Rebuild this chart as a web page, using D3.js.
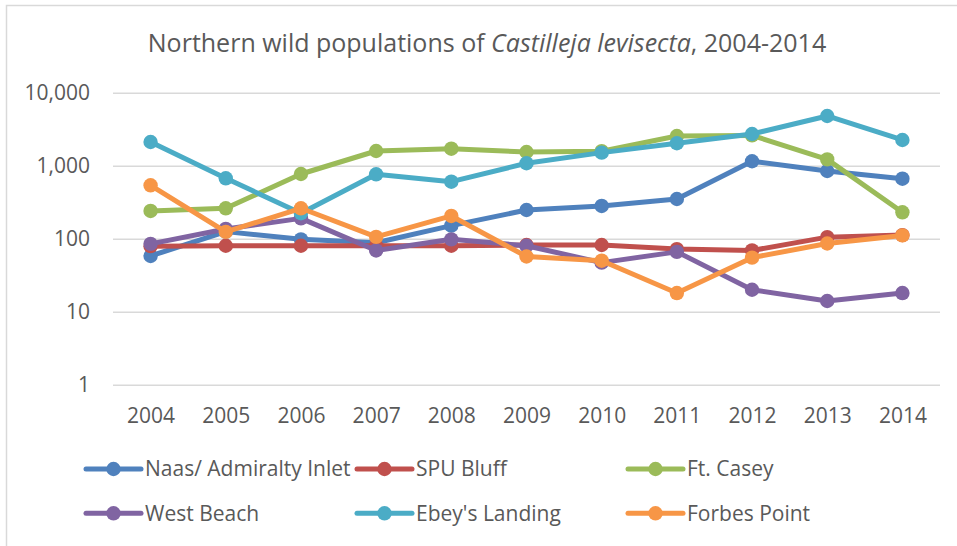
<!DOCTYPE html>
<html>
<head>
<meta charset="utf-8">
<script src="https://cdn.jsdelivr.net/npm/d3@7"></script>
<style>
  body { margin: 0; background: #fff; }
  text { font-family: "Open Sans", "Noto Sans", sans-serif; fill: #595959; }
</style>
</head>
<body>
<svg id="chart"></svg>
<script>
// Data
const years = ["2004", "2005", "2006", "2007", "2008", "2009", "2010", "2011", "2012", "2013", "2014"];
const naas = [58, 125, 98, 88, 151, 247, 281, 350, 1150, 846, 664];
const spuBluff = [79, 80, 80, 80, 80, 82, 82, 72, 69, 105, 112];
const ftCasey = [240, 261, 770, 1590, 1710, 1540, 1580, 2550, 2600, 1220, 230];
const westBeach = [85, 136, 190, 69, 98, 80, 47, 66, 20, 14, 18];
const ebeys = [2110, 672, 223, 762, 604, 1080, 1510, 2030, 2720, 4800, 2250];
const forbes = [539, 124, 261, 106, 205, 57, 50, 18, 55, 86, 111];

const seriesNames = ["Naas/ Admiralty Inlet", "SPU Bluff", "Ft. Casey", "West Beach", "Ebey's Landing", "Forbes Point"];
const seriesValues = [naas, spuBluff, ftCasey, westBeach, ebeys, forbes];
const colors = ["#4F81BD", "#C0504D", "#9BBB59", "#8064A2", "#4BACC6", "#F79646"];
const yTicks = [1, 10, 100, 1000, 10000];

let width = 957;
let height = 546;

let margin = { top: 92.7, right: 17, bottom: 161.3, left: 113 };

let svg = d3.select("#chart")
    .attr("width", width)
    .attr("height", height);

// chart frame
svg.append("rect")
    .attr("x", 6.5)
    .attr("y", 5.5)
    .attr("width", 1000)
    .attr("height", 1000)
    .attr("fill", "none")
    .attr("stroke", "#d9d9d9")
    .attr("stroke-width", 1.5);

// Title
let title = svg.append("text")
    .attr("x", 487)
    .attr("y", 43.5)
    .attr("dy", "0.35em")
    .attr("text-anchor", "middle")
    .style("font-size", "25px");
title.append("tspan").text("Northern wild populations of ");
title.append("tspan").style("font-style", "italic").text("Castilleja levisecta");
title.append("tspan").text(", 2004-2014");

// Scales
let xScale = d3.scalePoint()
    .domain(years)
    .range([margin.left, width - margin.right])
    .padding(0.5);

let yScale = d3.scaleLog()
    .domain([1, 10000])
    .range([height - margin.bottom, margin.top]);

// y axis with gridlines
let yAxis = svg.append("g")
    .attr("transform", `translate(${margin.left}, 0)`)
    .call(d3.axisLeft(yScale)
        .tickValues(yTicks)
        .tickFormat(d3.format(","))
        .tickSize(-(width - margin.left - margin.right))
        .tickPadding(23));
yAxis.select(".domain").remove();
yAxis.selectAll("line").attr("stroke", "#d9d9d9").attr("stroke-width", 1.5);
yAxis.selectAll("text").style("font-size", "21px").attr("fill", "#595959");

// x axis
let xAxis = svg.append("g")
    .attr("transform", `translate(0, ${height - margin.bottom})`)
    .call(d3.axisBottom(xScale).tickSize(0).tickPadding(23));
xAxis.select(".domain").remove();
xAxis.selectAll("text").style("font-size", "21px").attr("fill", "#595959");

// Lines and markers
let line = d3.line()
    .x((d, i) => xScale(years[i]))
    .y(d => yScale(d));

seriesValues.forEach(function(vals, s) {
    let g = svg.append("g");
    g.append("path")
        .datum(vals)
        .attr("d", line)
        .attr("fill", "none")
        .attr("stroke", colors[s])
        .attr("stroke-width", 5)
        .attr("stroke-linejoin", "round")
        .attr("stroke-linecap", "round");
    g.selectAll("circle")
        .data(vals)
        .enter().append("circle")
        .attr("cx", (d, i) => xScale(years[i]))
        .attr("cy", d => yScale(d))
        .attr("r", 7.2)
        .attr("fill", colors[s]);
});

// Legend
let legendX = [86, 357, 628];
let legendY = [469, 513.3];
seriesNames.forEach(function(name, i) {
    let lx = legendX[i % 3];
    let ly = legendY[Math.floor(i / 3)];
    let item = svg.append("g").attr("transform", `translate(${lx}, ${ly})`);
    item.append("line")
        .attr("x1", 0).attr("x2", 55)
        .attr("stroke", colors[i])
        .attr("stroke-width", 5)
        .attr("stroke-linecap", "round");
    item.append("circle")
        .attr("cx", 27.5)
        .attr("r", 7.2)
        .attr("fill", colors[i]);
    item.append("text")
        .attr("x", 59)
        .attr("dy", "0.35em")
        .style("font-size", "21px")
        .text(name);
});
</script>
</body>
</html>
